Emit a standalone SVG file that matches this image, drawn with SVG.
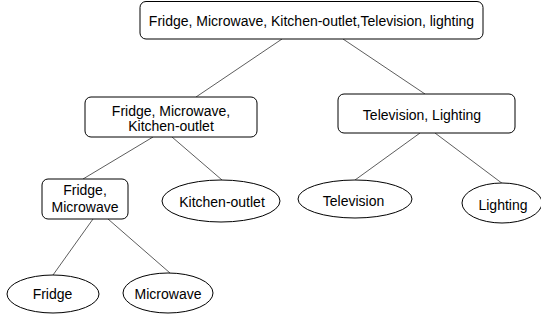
<svg xmlns="http://www.w3.org/2000/svg" width="541" height="320" viewBox="0 0 541 320">
<style>
.n{fill:#fff;stroke:#000;stroke-width:1}
.t{font-family:"Liberation Sans",Arial,sans-serif;font-size:14px;fill:#000;text-anchor:middle}
.c line{stroke:#333;stroke-width:0.8}
</style>
<rect width="541" height="320" fill="#fff"/>
<g class="c" id="connectors">
<line x1="282" y1="39" x2="196" y2="97"/>
<line x1="343" y1="39" x2="425" y2="94"/>
<line x1="153" y1="137" x2="83" y2="179"/>
<line x1="172" y1="137" x2="222" y2="180"/>
<line x1="420" y1="133" x2="355" y2="180"/>
<line x1="435" y1="133" x2="503" y2="184"/>
<line x1="93" y1="219" x2="53" y2="275"/>
<line x1="108" y1="219" x2="170" y2="273"/>
</g>
<g id="root"><rect class="n" x="140" y="1.5" width="343" height="37.5" rx="6"/><text class="t" x="311.5" y="26">Fridge, Microwave, Kitchen-outlet,Television, lighting</text></g>
<g id="fmk"><rect class="n" x="85" y="97" width="172" height="40" rx="6"/><text class="t" x="171" y="116">Fridge, Microwave,</text><text class="t" x="171" y="131">Kitchen-outlet</text></g>
<g id="tl"><rect class="n" x="338" y="94" width="177" height="39" rx="6"/><text class="t" x="422" y="120">Television, Lighting</text></g>
<g id="fm"><rect class="n" x="42" y="179" width="86" height="40" rx="6"/><text class="t" x="85" y="195">Fridge,</text><text class="t" x="85" y="212">Microwave</text></g>
<g id="kitchen"><ellipse class="n" cx="221" cy="201" rx="59" ry="21"/><text class="t" x="222" y="207">Kitchen-outlet</text></g>
<g id="tv"><ellipse class="n" cx="355" cy="199" rx="57" ry="19"/><text class="t" x="353.5" y="206">Television</text></g>
<g id="lighting"><ellipse class="n" cx="502" cy="203" rx="40" ry="20"/><text class="t" x="503" y="210">Lighting</text></g>
<g id="fridge"><ellipse class="n" cx="53" cy="294" rx="46" ry="19"/><text class="t" x="52.5" y="299">Fridge</text></g>
<g id="microwave"><ellipse class="n" cx="168" cy="293" rx="45" ry="20"/><text class="t" x="168" y="299">Microwave</text></g>
</svg>
